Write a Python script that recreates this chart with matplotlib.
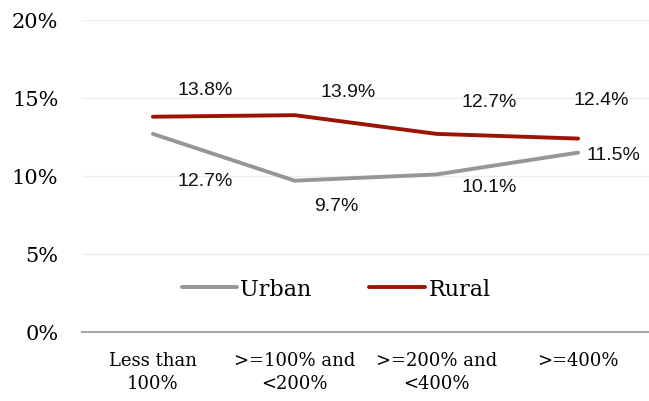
import matplotlib
matplotlib.use('Agg')
import matplotlib.pyplot as plt

categories = ['Less than\n100%', '>=100% and\n<200%', '>=200% and\n<400%', '>=400%']
urban = [12.7, 9.7, 10.1, 11.5]
rural = [13.8, 13.9, 12.7, 12.4]

# label offsets in pixels (dx, dy) from each point
urban_off = [(52, -47), (42, -25), (53, -12), (35, -2)]
rural_off = [(52, 27), (53, 24), (53, 32), (23, 39)]

SERIF = 'DejaVu Serif'
SANS = 'Liberation Sans'

fig = plt.figure(figsize=(6.49, 4.02), dpi=100)
ax = fig.add_axes([82/649, 69/402, 567/649, 312/402])
x = list(range(len(categories)))

ax.plot(x, urban, color='#969696', lw=2.8, solid_capstyle='round', label='Urban')
ax.plot(x, rural, color='#9a1505', lw=2.8, solid_capstyle='round', label='Rural')

for xi, v, (dx, dy) in zip(x, urban, urban_off):
    ax.annotate(f'{v:.1f}%', (xi, v), xytext=(dx, dy), textcoords='offset pixels',
                ha='center', va='center', fontsize=14, family=SANS, color='#111')
for xi, v, (dx, dy) in zip(x, rural, rural_off):
    ax.annotate(f'{v:.1f}%', (xi, v), xytext=(dx, dy), textcoords='offset pixels',
                ha='center', va='center', fontsize=14, family=SANS, color='#111')

ax.set_xlim(-0.5, 3.5)
ax.set_ylim(0, 20)
ax.set_yticks([0, 5, 10, 15, 20])
ax.set_yticklabels(['0%', '5%', '10%', '15%', '20%'], family=SERIF, fontsize=15)
ax.set_xticks(x)
ax.set_xticklabels(categories, family=SERIF, fontsize=13, linespacing=1.3)
ax.tick_params(length=0)
ax.tick_params(axis='y', pad=17)
ax.tick_params(axis='x', pad=14)
ax.grid(axis='y', color='#eeeeee', lw=1)
ax.set_axisbelow(True)
for s in ['top', 'right', 'left']:
    ax.spines[s].set_visible(False)
ax.spines['bottom'].set_color('#a6a6a6')
ax.spines['bottom'].set_linewidth(1.5)

ax.legend(loc='center', bbox_to_anchor=(0.448, 0.138), ncol=2, frameon=False,
          prop={'family': SERIF, 'size': 16}, handlelength=2.5, handletextpad=0.15,
          columnspacing=2.6)

fig.savefig('out.png', dpi=100, facecolor='white')
